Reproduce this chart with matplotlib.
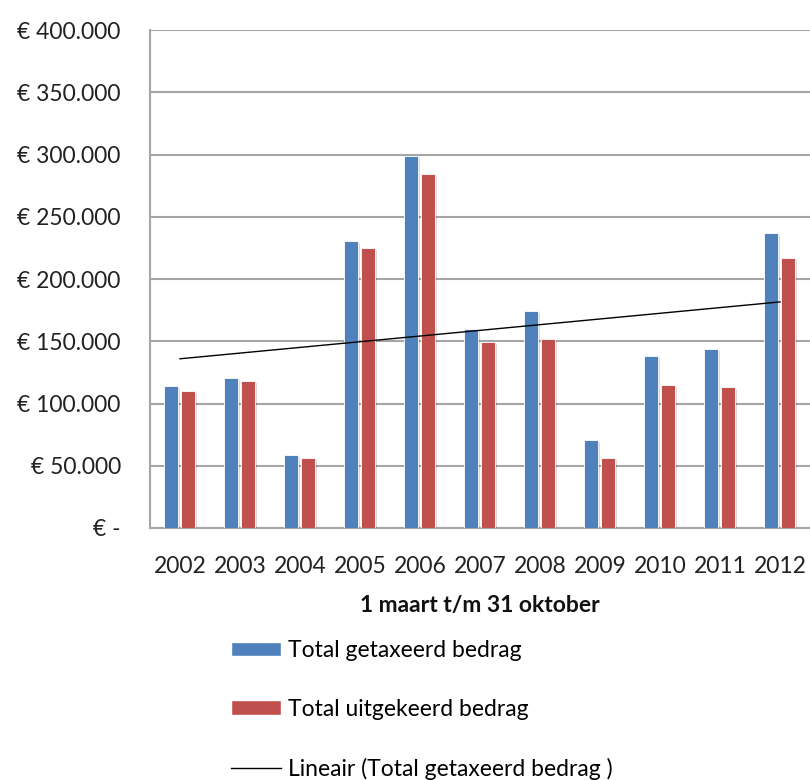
import matplotlib
matplotlib.use("Agg")
import matplotlib.pyplot as plt
import matplotlib.patheffects as pe
from matplotlib.patches import Patch
from matplotlib.lines import Line2D
import numpy as np

plt.rcParams['font.family'] = ['Lato', 'DejaVu Sans']

years = ["2002", "2003", "2004", "2005", "2006", "2007", "2008", "2009", "2010", "2011", "2012"]
getaxeerd = [114000, 120500, 58600, 230500, 299000, 159800, 174300, 70700, 138100, 143800, 237000]
uitgekeerd = [110000, 118000, 56200, 225000, 284300, 149400, 151800, 56200, 114900, 113300, 216900]
yticks = [0, 50000, 100000, 150000, 200000, 250000, 300000, 350000, 400000]
ytick_labels = ["€ -", "€ 50.000", "€ 100.000", "€ 150.000", "€ 200.000", "€ 250.000",
                "€ 300.000", "€ 350.000", "€ 400.000"]

blue = "#4F81BD"
red = "#C0504D"
grid = "#A6A6A6"

fig = plt.figure(figsize=(8.1, 7.8), dpi=100)
ax = fig.add_axes([150/810, 1-528/780, 660/810, 498/780])

x = np.arange(len(years))
w = 0.235
shadow = [pe.SimplePatchShadow(offset=(1.5, -1.5), shadow_rgbFace='#000000', alpha=0.15), pe.Normal()]
ax.bar(x - 0.145, getaxeerd, width=w, color=blue, edgecolor='white', linewidth=0.6,
       path_effects=shadow, zorder=3)
ax.bar(x + 0.135, uitgekeerd, width=w, color=red, edgecolor='white', linewidth=0.6,
       path_effects=shadow, zorder=3)

coef = np.polyfit(x, getaxeerd, 1)
ax.plot(x, np.polyval(coef, x), color='black', linewidth=1, zorder=4)

ax.set_xlim(-0.5, len(years) - 0.5)
ax.set_ylim(0, 400000)
ax.set_yticks(yticks)
ax.set_yticklabels(ytick_labels)
ax.set_xticks(x)
ax.set_xticklabels(years)
ax.yaxis.grid(True, color=grid, linewidth=1.5, zorder=0)
ax.set_axisbelow(True)
for s in ['top', 'right']:
    ax.spines[s].set_visible(False)
ax.spines['left'].set_color(grid)
ax.spines['left'].set_linewidth(1.5)
ax.spines['bottom'].set_color(grid)
ax.spines['bottom'].set_linewidth(1.5)
ax.tick_params(axis='both', length=0, labelsize=16.5, colors='#222222')
ax.tick_params(axis='y', pad=21)
ax.tick_params(axis='x', pad=20)
ax.set_xlabel("1 maart t/m 31 oktober", fontsize=16.5, fontweight='bold', labelpad=13, color='#111111')

handles = [Patch(facecolor=blue, edgecolor='white'),
           Patch(facecolor=red, edgecolor='white'),
           Line2D([0], [0], color='black', linewidth=1)]
labels = ["Total getaxeerd bedrag", "Total uitgekeerd bedrag", "Lineair (Total getaxeerd bedrag )"]
fig.legend(handles, labels, loc='upper left', bbox_to_anchor=(231/810, 1-640/780),
           frameon=False, fontsize=16.5, handlelength=2.2, handleheight=0.6,
           handletextpad=0.28, labelspacing=1.65, borderaxespad=0, borderpad=0)

fig.savefig("out.png", dpi=100)
